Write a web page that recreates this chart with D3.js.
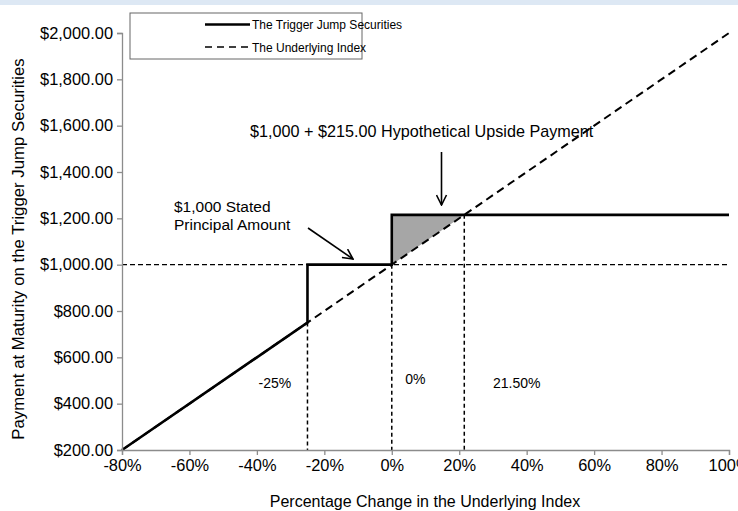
<!DOCTYPE html>
<html>
<head>
<meta charset="utf-8">
<script src="https://cdn.jsdelivr.net/npm/d3@7/dist/d3.min.js"></script>
<style>
  body { margin: 0; background: #fff; }
  text { font-family: "Liberation Sans", Arial, sans-serif; fill: #000; }
</style>
</head>
<body>
<div id="chartContainer"></div>
<script>
// data
const xTicks = [-80, -60, -40, -20, 0, 20, 40, 60, 80, 100];
const yTicks = [200, 400, 600, 800, 1000, 1200, 1400, 1600, 1800, 2000];
const securitiesX = [-80, -25, -25, 0, 0, 100];
const securitiesY = [200, 750, 1000, 1000, 1215, 1215];
const indexX = [-80, 100];
const indexY = [200, 2000];
const principal = 1000;
const trigger = -25;
const upsideCap = 21.5;
const upsideValue = 1215;
const zoneLabels = ['-25%', '0%', '21.50%'];

const svgWidth = 738;
const svgHeight = 511;
const margin = { top: 33, right: 9, bottom: 61, left: 122 };
const chartWidth = svgWidth - margin.left - margin.right;
const chartHeight = svgHeight - margin.top - margin.bottom;

const svg = d3.select('#chartContainer')
    .append('svg')
    .attr('width', svgWidth)
    .attr('height', svgHeight);

// light blue strip at the top
svg.append('rect')
    .attr('x', 0).attr('y', 0)
    .attr('width', svgWidth).attr('height', 5)
    .attr('fill', '#dde8f4');

const xScale = d3.scaleLinear().domain([-80, 100]).range([0, chartWidth]);
const yScale = d3.scaleLinear().domain([200, 2000]).range([chartHeight, 0]);

const chart = svg.append('g')
    .attr('transform', `translate(${margin.left}, ${margin.top})`);

// shaded upside triangle
chart.append('path')
    .attr('d', d3.line()([
        [xScale(0), yScale(principal)],
        [xScale(0), yScale(upsideValue)],
        [xScale(upsideCap), yScale(upsideValue)]
    ]) + 'Z')
    .attr('fill', '#a6a6a6');

// horizontal dashed line at principal
chart.append('line')
    .attr('x1', xScale(-80)).attr('x2', xScale(100))
    .attr('y1', yScale(principal)).attr('y2', yScale(principal))
    .attr('stroke', '#000').attr('stroke-width', 1.3)
    .attr('stroke-dasharray', '5,3');

// vertical dotted guides
const guides = [[trigger, 750], [0, principal], [upsideCap, upsideValue]];
chart.selectAll('.guide')
    .data(guides)
    .enter()
    .append('line')
    .attr('class', 'guide')
    .attr('x1', d => xScale(d[0])).attr('x2', d => xScale(d[0]))
    .attr('y1', d => yScale(d[1])).attr('y2', yScale(200))
    .attr('stroke', '#000').attr('stroke-width', 1.5)
    .attr('stroke-dasharray', '4,3');

// underlying index (dashed)
const indexData = indexX.map((x, i) => [x, indexY[i]]);
chart.append('path')
    .datum(indexData)
    .attr('fill', 'none')
    .attr('stroke', '#000')
    .attr('stroke-width', 2)
    .attr('stroke-dasharray', '8,5')
    .attr('d', d3.line().x(d => xScale(d[0])).y(d => yScale(d[1])));

// trigger jump securities (solid)
const secData = securitiesX.map((x, i) => [x, securitiesY[i]]);
chart.append('path')
    .datum(secData)
    .attr('fill', 'none')
    .attr('stroke', '#000')
    .attr('stroke-width', 2.6)
    .attr('d', d3.line().x(d => xScale(d[0])).y(d => yScale(d[1])));

// axes
const xAxis = chart.append('g')
    .attr('transform', `translate(0, ${chartHeight})`)
    .call(d3.axisBottom(xScale).tickValues(xTicks).tickSize(5).tickPadding(4)
        .tickFormat(d => d + '%'));
const yAxis = chart.append('g')
    .call(d3.axisLeft(yScale).tickValues(yTicks).tickSize(5).tickPadding(4)
        .tickFormat(d3.format('$,.2f')));

[xAxis, yAxis].forEach(ax => {
    ax.attr('font-size', 16.4).attr('font-family', '"Liberation Sans", Arial, sans-serif');
    ax.select('.domain').attr('stroke', '#8c8c8c').attr('stroke-width', 1.3);
    ax.selectAll('.tick line').attr('stroke', '#8c8c8c').attr('stroke-width', 1.3);
    ax.selectAll('.tick text').attr('fill', '#000');
});

// zone labels
const zonePos = [[-39.5, 355], [4, 351], [30, 355]];
chart.selectAll('.zone')
    .data(zoneLabels)
    .enter()
    .append('text')
    .attr('class', 'zone')
    .attr('x', (d, i) => xScale(zonePos[i][0]))
    .attr('y', (d, i) => zonePos[i][1])
    .attr('font-size', 14)
    .text(d => d);

// arrow marker (open)
svg.append('defs').append('marker')
    .attr('id', 'arrow')
    .attr('viewBox', '0 0 12 12')
    .attr('refX', 11).attr('refY', 6)
    .attr('markerWidth', 12).attr('markerHeight', 12)
    .attr('markerUnits', 'userSpaceOnUse')
    .attr('orient', 'auto')
    .append('path')
    .attr('d', 'M1,1 L11,6 L1,11')
    .attr('fill', 'none')
    .attr('stroke', '#000')
    .attr('stroke-width', 1.6);

// annotations
chart.append('text')
    .attr('x', 52).attr('y', 179)
    .attr('font-size', 15.5)
    .text('$1,000 Stated');
chart.append('text')
    .attr('x', 52).attr('y', 197)
    .attr('font-size', 15.5)
    .text('Principal Amount');
chart.append('line')
    .attr('x1', 186).attr('y1', 195)
    .attr('x2', 231).attr('y2', 226)
    .attr('stroke', '#000').attr('stroke-width', 1.6)
    .attr('marker-end', 'url(#arrow)');

chart.append('text')
    .attr('x', 128).attr('y', 104)
    .attr('font-size', 16.2)
    .text('$1,000 + $215.00 Hypothetical Upside Payment');
chart.append('line')
    .attr('x1', 319.5).attr('y1', 119)
    .attr('x2', 319.5).attr('y2', 172)
    .attr('stroke', '#000').attr('stroke-width', 1.6)
    .attr('marker-end', 'url(#arrow)');

// axis titles
svg.append('text')
    .attr('x', 425)
    .attr('y', 507)
    .attr('text-anchor', 'middle')
    .attr('font-size', 16)
    .text('Percentage Change in the Underlying Index');
svg.append('text')
    .attr('transform', `translate(24, 249) rotate(-90)`)
    .attr('text-anchor', 'middle')
    .attr('font-size', 16.8)
    .text('Payment at Maturity on the Trigger Jump Securities');

// legend
const legend = svg.append('g').attr('transform', 'translate(130, 13)');
legend.append('rect')
    .attr('x', 0).attr('y', 0)
    .attr('width', 232).attr('height', 46)
    .attr('fill', '#fff')
    .attr('stroke', '#666').attr('stroke-width', 1);
legend.append('line')
    .attr('x1', 75).attr('x2', 120).attr('y1', 11.5).attr('y2', 11.5)
    .attr('stroke', '#000').attr('stroke-width', 2.6);
legend.append('text')
    .attr('x', 122).attr('y', 16)
    .attr('font-size', 12)
    .text('The Trigger Jump Securities');
legend.append('line')
    .attr('x1', 75).attr('x2', 120).attr('y1', 34).attr('y2', 34)
    .attr('stroke', '#000').attr('stroke-width', 1.6)
    .attr('stroke-dasharray', '7,5');
legend.append('text')
    .attr('x', 122).attr('y', 39)
    .attr('font-size', 12)
    .text('The Underlying Index');
</script>
</body>
</html>
